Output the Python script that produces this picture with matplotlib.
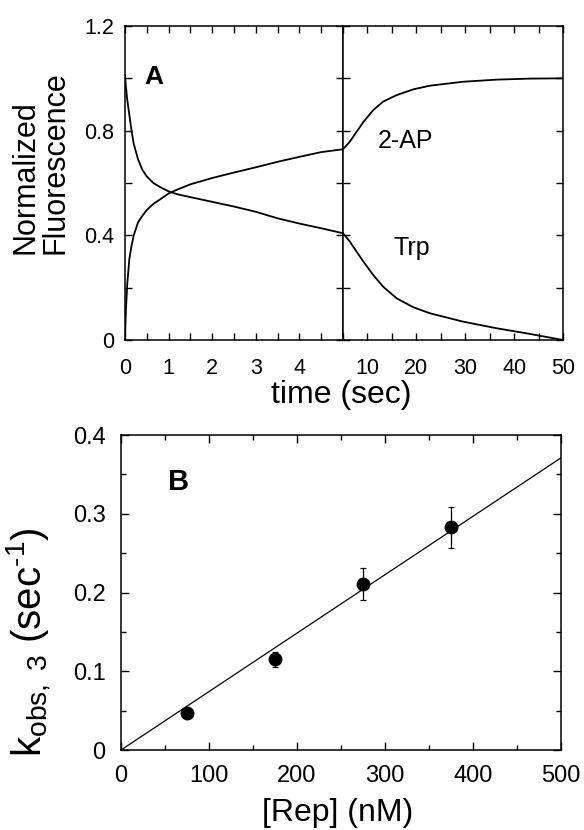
import matplotlib
matplotlib.use('Agg')
import matplotlib.pyplot as plt
from matplotlib.ticker import MultipleLocator

plt.rcParams['font.family'] = ['Liberation Sans', 'DejaVu Sans']
plt.rcParams['mathtext.fontset'] = 'custom'
plt.rcParams['mathtext.rm'] = 'Liberation Sans'
plt.rcParams['mathtext.it'] = 'Liberation Sans:italic'

# panel A: stopped-flow traces, fast part (0-5 s) and slow part (5-50 s)
t_fast = [0, 0.02, 0.05, 0.1, 0.15, 0.2, 0.3, 0.4, 0.5, 0.65, 0.8, 1.0, 1.2, 1.5,
          2.0, 2.5, 3.0, 3.5, 4.0, 4.5, 5.0]
trp_fast = [1.01, 0.97, 0.92, 0.86, 0.80, 0.75, 0.69, 0.65, 0.625, 0.60, 0.585, 0.568,
            0.557, 0.546, 0.528, 0.51, 0.49, 0.465, 0.445, 0.427, 0.408]
ap_fast = [0.0, 0.11, 0.21, 0.31, 0.36, 0.40, 0.45, 0.475, 0.497, 0.52, 0.537, 0.56,
           0.575, 0.595, 0.619, 0.640, 0.660, 0.681, 0.70, 0.718, 0.729]

t_slow = [5, 6.4, 7.8, 9.2, 11.2, 13.2, 16, 19.4, 22.8, 29.6, 36.4, 43.3, 50]
ap_slow = [0.729, 0.758, 0.796, 0.834, 0.879, 0.911, 0.936, 0.958, 0.972, 0.987,
           0.995, 0.999, 1.0]
trp_slow = [0.408, 0.376, 0.337, 0.299, 0.248, 0.204, 0.159, 0.125, 0.102, 0.070,
            0.045, 0.023, 0.0]

# panel B: kobs,3 vs [Rep]
rep = [75, 175, 275, 375]
kobs = [0.047, 0.115, 0.211, 0.283]
kerr = [0.004, 0.009, 0.020, 0.026]
fit_x = [0, 500]
fit_y = [0, 0.371]

fig = plt.figure(figsize=(5.84, 8.3), dpi=100)
W, H = 584, 830

def box(l, t, r, b):
    return [l / W, 1 - b / H, (r - l) / W, (b - t) / H]

ax1 = fig.add_axes(box(125, 26, 343, 340))
ax2 = fig.add_axes(box(343, 26, 563, 340))
ax3 = fig.add_axes(box(121, 435, 561, 750))

for ax in (ax1, ax2, ax3):
    for s in ax.spines.values():
        s.set_linewidth(1.1)

# fast part
ax1.plot(t_fast, trp_fast, color='black', lw=1.3)
ax1.plot(t_fast, ap_fast, color='black', lw=1.3)
ax1.set_xlim(0, 5)
ax1.set_ylim(0, 1.2)
ax1.set_xticks([0, 1, 2, 3, 4])
ax1.xaxis.set_minor_locator(MultipleLocator(0.5))
ax1.set_yticks([0, 0.4, 0.8, 1.2], labels=['0', '0.4', '0.8', '1.2'])
ax1.yaxis.set_minor_locator(MultipleLocator(0.2))
ax1.tick_params(which='both', direction='in', top=True, right=True, length=5,
                width=1, labelsize=15.5)
ax1.tick_params(axis='x', pad=13)
ax1.tick_params(axis='y', pad=8)
ax1.text(0.665, 1.007, 'A', fontsize=19, fontweight='bold', ha='center', va='center')

# slow part
ax2.plot(t_slow, ap_slow, color='black', lw=1.3)
ax2.plot(t_slow, trp_slow, color='black', lw=1.3)
ax2.set_xlim(5, 50)
ax2.set_ylim(0, 1.2)
ax2.set_xticks([10, 20, 30, 40, 50])
ax2.xaxis.set_minor_locator(MultipleLocator(5))
ax2.set_yticks([0, 0.2, 0.4, 0.6, 0.8, 1.0, 1.2])
ax2.tick_params(which='both', direction='in', top=True, right=True, left=True,
                length=5, width=1, labelsize=15.5, labelleft=False)
ax2.tick_params(axis='x', pad=13)
ax2.text(17.7, 0.734, '2-AP', fontsize=18, ha='center', va='baseline')
ax2.text(19.1, 0.325, 'Trp', fontsize=18, ha='center', va='baseline')

fig.text(341 / W, 1 - 395 / H, 'time (sec)', fontsize=23, ha='center', va='center')
fig.text(41 / W, 1 - 163 / H, 'Normalized\nFluorescence', fontsize=22, rotation=90,
         ha='center', va='center', multialignment='left', linespacing=1.0)

# panel B
ax3.plot(fit_x, fit_y, color='black', lw=0.9)
ax3.errorbar(rep, kobs, yerr=kerr, fmt='o', color='black', markersize=9,
             elinewidth=0.9, capsize=2.5, capthick=0.9)
ax3.set_xlim(0, 500)
ax3.set_ylim(0, 0.4)
ax3.set_xticks([0, 100, 200, 300, 400, 500])
ax3.xaxis.set_minor_locator(MultipleLocator(50))
ax3.set_yticks([0, 0.1, 0.2, 0.3, 0.4], labels=['0', '0.1', '0.2', '0.3', '0.4'])
ax3.yaxis.set_minor_locator(MultipleLocator(0.05))
ax3.tick_params(which='both', direction='in', top=True, right=True, width=1,
                labelsize=17)
ax3.tick_params(which='major', length=6)
ax3.tick_params(which='minor', length=3.5)
ax3.tick_params(axis='x', pad=11)
ax3.tick_params(axis='y', pad=11)
ax3.text(65, 0.340, 'B', fontsize=21, fontweight='bold', ha='center', va='center')

fig.text(338 / W, 1 - 813 / H, '[Rep] (nM)', fontsize=23, ha='center', va='center')
fig.text(29 / W, 1 - 642 / H, r'k$_{\mathrm{obs,\ 3}}$ (sec$^{\text{-1}}$)',
         fontsize=29, rotation=90, ha='center', va='center')

fig.savefig('out.png', dpi=100)
